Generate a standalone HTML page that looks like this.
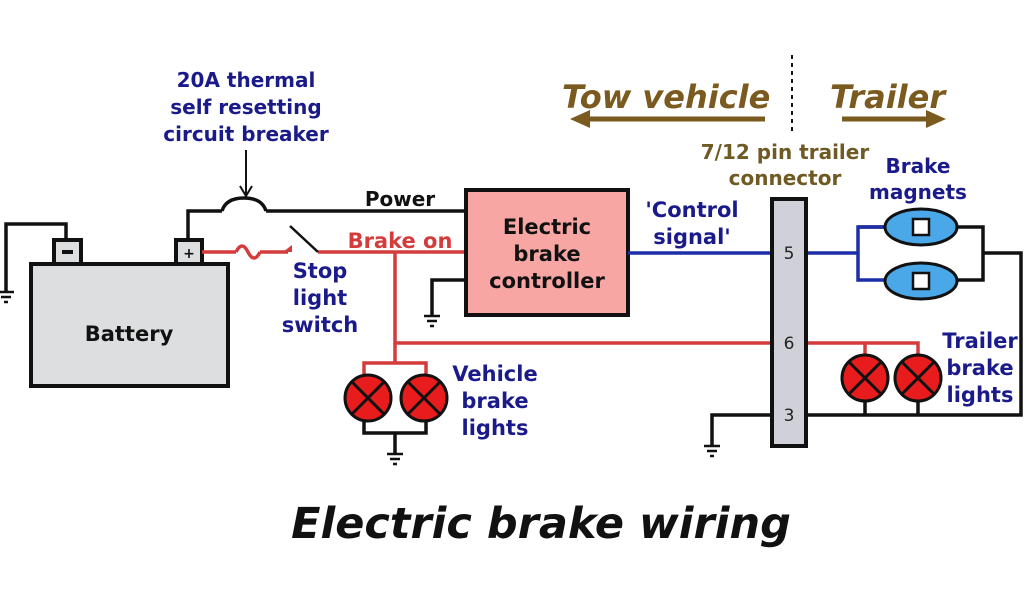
<!DOCTYPE html>
<html><head><meta charset="utf-8"><style>html,body{margin:0;padding:0;background:#fff}svg{display:block}</style></head>
<body>
<svg width="1024" height="600" viewBox="0 0 1024 600" xmlns="http://www.w3.org/2000/svg" font-family="'DejaVu Sans','Liberation Sans',sans-serif" font-weight="bold">
<defs>
<g id="gnd" stroke="#111" stroke-width="2.5"><line x1="-8" y1="0" x2="8" y2="0"/><line x1="-5" y1="5" x2="5" y2="5"/><line x1="-2" y1="10" x2="2" y2="10"/></g>
<g id="lamp"><circle r="23" fill="#e81c1c" stroke="#111" stroke-width="3"/><line x1="-16" y1="-16" x2="16" y2="16" stroke="#111" stroke-width="3"/><line x1="16" y1="-16" x2="-16" y2="16" stroke="#111" stroke-width="3"/></g>
<g id="mag"><ellipse rx="36" ry="18" fill="#4aa8e8" stroke="#111" stroke-width="3"/><rect x="-8" y="-8" width="16" height="16" fill="#fff" stroke="#111" stroke-width="2.5"/></g>
</defs>
<g fill="#1a1a8a" font-size="20" text-anchor="middle">
<text x="246" y="87">20A thermal</text><text x="246" y="114">self resetting</text><text x="246" y="141">circuit breaker</text>
</g>
<line x1="246" y1="150" x2="246" y2="194" stroke="#111" stroke-width="2"/>
<polyline points="240,186 246,196 252,186" fill="none" stroke="#111" stroke-width="2"/>
<g fill="#7a5a1e" font-style="italic" font-size="32">
<text x="562" y="108">Tow vehicle</text><text x="830" y="108">Trailer</text></g>
<line x1="584" y1="119" x2="765" y2="119" stroke="#7a5a1e" stroke-width="5"/>
<polygon points="570,119 590,110 590,128" fill="#7a5a1e"/>
<line x1="842" y1="119" x2="930" y2="119" stroke="#7a5a1e" stroke-width="5"/>
<polygon points="946,119 926,110 926,128" fill="#7a5a1e"/>
<line x1="792" y1="55" x2="792" y2="135" stroke="#111" stroke-width="2" stroke-dasharray="4,4"/>
<g fill="#6e5a22" font-size="20" text-anchor="middle"><text x="785" y="159">7/12 pin trailer</text><text x="785" y="185">connector</text></g>
<g fill="#1a1a8a" font-size="20" text-anchor="middle"><text x="918" y="173">Brake</text><text x="918" y="199">magnets</text></g>
<g fill="none" stroke="#111" stroke-width="3.5">
<polyline points="66,240 66,224 6,224 6,292"/>
<polyline points="188,240 188,211 222,211"/>
<path d="M222,211 Q226,198 244,198 Q262,198 266,211"/>
<line x1="266" y1="211" x2="466" y2="211"/>
<polyline points="466,280 432,280 432,316"/>
<polyline points="858,227 885,227"/><polyline points="957,227 983,227 983,280 957,280"/>
<polyline points="983,253 1021,253 1021,415 806,415"/>
<polyline points="772,415 712,415 712,446"/>
<polyline points="364,398 364,433 426,433 426,398"/><line x1="395" y1="433" x2="395" y2="454"/>
<line x1="865" y1="395" x2="865" y2="415"/><line x1="918" y1="395" x2="918" y2="415"/>
</g>
<use href="#gnd" x="6" y="292"/><use href="#gnd" x="432" y="316"/><use href="#gnd" x="395" y="454"/><use href="#gnd" x="712" y="446"/>
<rect x="31" y="264" width="197" height="122" fill="#dcdee0" stroke="#111" stroke-width="4"/>
<rect x="54" y="240" width="27" height="24" fill="#dcdee0" stroke="#111" stroke-width="4"/>
<rect x="176" y="240" width="26" height="24" fill="#dcdee0" stroke="#111" stroke-width="4"/>
<rect x="62" y="250" width="11" height="4" fill="#111"/>
<text x="189" y="258" font-size="14" text-anchor="middle" fill="#111">+</text>
<text x="129" y="341" font-size="21" text-anchor="middle" fill="#111">Battery</text>
<g fill="none" stroke="#d43c3c" stroke-width="3.5">
<line x1="202" y1="252" x2="236" y2="252"/>
<path d="M236,252 Q242,240 248,252 Q254,264 260,252"/>
<line x1="260" y1="252" x2="288" y2="252"/>
<line x1="318" y1="252" x2="466" y2="252"/>
<polyline points="395,252 395,343 772,343"/>
<polyline points="395,343 395,363"/>
<polyline points="364,380 364,363 426,363 426,380"/>
<polyline points="806,343 918,343 918,360"/><line x1="865" y1="343" x2="865" y2="360"/>
</g>
<polygon points="283,252 292,245 292,252" fill="#d43c3c"/>
<line x1="290" y1="226" x2="318" y2="252" stroke="#111" stroke-width="2.5"/>
<text x="400" y="248" font-size="21" fill="#d43c3c" text-anchor="middle">Brake on</text>
<text x="400" y="206" font-size="20" fill="#111" text-anchor="middle">Power</text>
<g fill="#1a1a8a" font-size="21" text-anchor="middle">
<text x="320" y="278">Stop</text><text x="320" y="305">light</text><text x="320" y="332">switch</text>
<text x="495" y="381">Vehicle</text><text x="495" y="408">brake</text><text x="495" y="435">lights</text>
<text x="980" y="348">Trailer</text><text x="980" y="375">brake</text><text x="980" y="402">lights</text>
<text x="692" y="217">'Control</text><text x="692" y="244">signal'</text>
</g>
<use href="#lamp" x="368" y="398"/><use href="#lamp" x="424" y="398"/>
<use href="#lamp" x="865" y="378"/><use href="#lamp" x="918" y="378"/>
<rect x="466" y="190" width="162" height="125" fill="#f7a6a4" stroke="#111" stroke-width="4"/>
<g fill="#111" font-size="21" text-anchor="middle"><text x="547" y="234">Electric</text><text x="547" y="261">brake</text><text x="547" y="288">controller</text></g>
<g fill="none" stroke="#1c2fa8" stroke-width="3.5">
<line x1="628" y1="253" x2="772" y2="253"/>
<polyline points="806,253 858,253"/><polyline points="885,227 858,227 858,280 885,280"/>
</g>
<use href="#mag" x="921" y="227"/><use href="#mag" x="921" y="281"/>
<rect x="772" y="199" width="34" height="247" fill="#d0d0d8" stroke="#111" stroke-width="4"/>
<g font-weight="normal" font-size="17" fill="#222" text-anchor="middle"><text x="789" y="259">5</text><text x="789" y="349">6</text><text x="789" y="421">3</text></g>
<text x="541" y="538" font-size="43" font-style="italic" text-anchor="middle" fill="#111">Electric brake wiring</text>
</svg>
</body></html>
